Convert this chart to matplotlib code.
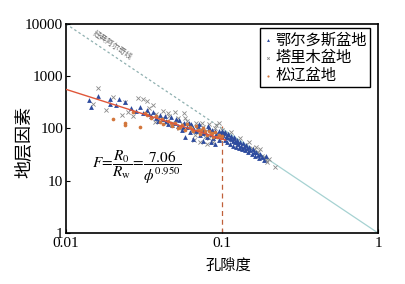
import numpy as np
import matplotlib
matplotlib.use('Agg')
import matplotlib.pyplot as plt

plt.rcParams['font.family'] = ['Liberation Serif', 'Noto Sans CJK SC']
plt.rcParams['mathtext.fontset'] = 'stix'

# 鄂尔多斯盆地 (blue triangles)
ordos_phi = [0.014, 0.0145, 0.016, 0.019, 0.019, 0.021, 0.022, 0.024, 0.026, 0.028,
             0.030, 0.031, 0.033, 0.035, 0.036, 0.038, 0.040, 0.042, 0.044, 0.045,
             0.047, 0.050, 0.052, 0.053, 0.055, 0.057, 0.058, 0.060, 0.062, 0.063,
             0.065, 0.065, 0.068, 0.070, 0.072, 0.075, 0.075, 0.078, 0.080, 0.082,
             0.085, 0.085, 0.088, 0.090, 0.090, 0.092, 0.095, 0.098, 0.100, 0.100,
             0.102, 0.104, 0.105, 0.107, 0.108, 0.110, 0.112, 0.113, 0.115, 0.117,
             0.118, 0.120, 0.122, 0.123, 0.125, 0.127, 0.128, 0.130, 0.132, 0.134,
             0.136, 0.138, 0.140, 0.142, 0.145, 0.147, 0.150, 0.152, 0.155, 0.158,
             0.160, 0.163, 0.166, 0.170, 0.172, 0.175, 0.180, 0.185, 0.190,
             0.034, 0.039, 0.043, 0.048, 0.051, 0.056, 0.061, 0.066, 0.071, 0.076,
             0.081, 0.086, 0.091, 0.096, 0.103, 0.106, 0.109, 0.114, 0.119, 0.124]
ordos_F = [345, 255, 420, 370, 300, 280, 360, 320, 250, 215,
           260, 195, 230, 175, 210, 160, 180, 150, 140, 120,
           165, 130, 110, 145, 95, 125, 70, 105, 85, 120,
           100, 62, 90, 110, 75, 95, 58, 85, 70, 100,
           80, 55, 65, 90, 50, 72, 60, 80, 68, 88,
           75, 60, 85, 70, 55, 78, 65, 50, 72, 58,
           47, 66, 54, 44, 60, 50, 42, 56, 46, 40,
           52, 44, 38, 48, 42, 36, 45, 38, 33, 40,
           35, 30, 36, 31, 27, 33, 28, 25, 30,
           190, 140, 170, 115, 150, 105, 130, 92, 120, 82,
           110, 95, 78, 88, 82, 68, 80, 62, 70, 56]

# 塔里木盆地 (grey crosses)
tarim_phi = [0.015, 0.016, 0.018, 0.020, 0.023, 0.024, 0.025, 0.027, 0.029, 0.031,
             0.033, 0.034, 0.036, 0.038, 0.040, 0.042, 0.045, 0.046, 0.048, 0.050,
             0.052, 0.055, 0.057, 0.060, 0.062, 0.064, 0.066, 0.068, 0.070, 0.072,
             0.075, 0.078, 0.080, 0.082, 0.085, 0.088, 0.090, 0.093, 0.095, 0.097,
             0.100, 0.105, 0.110, 0.115, 0.120, 0.125, 0.130, 0.140, 0.150, 0.155,
             0.160, 0.165, 0.170, 0.175, 0.180, 0.185, 0.190, 0.195, 0.200, 0.220,
             0.037, 0.044, 0.053, 0.058, 0.067, 0.074, 0.083, 0.092, 0.135, 0.145]
tarim_F = [300, 590, 230, 400, 180, 320, 210, 170, 390, 360,
           330, 250, 280, 190, 150, 220, 200, 170, 130, 210,
           160, 120, 200, 140, 110, 95, 60, 130, 85, 55,
           105, 70, 50, 120, 90, 55, 100, 75, 130, 60,
           95, 80, 65, 85, 60, 50, 65, 48, 55, 42,
           38, 45, 35, 40, 30, 28, 25, 23, 26, 18,
           135, 125, 100, 160, 75, 130, 65, 115, 42, 38]

# 松辽盆地 (orange dots)
songliao_phi = [0.020, 0.024, 0.024, 0.030, 0.032, 0.035, 0.038, 0.040, 0.042, 0.045,
                0.048, 0.050, 0.052, 0.055, 0.058, 0.060, 0.062, 0.065, 0.068, 0.070,
                0.072, 0.075, 0.078, 0.080, 0.082, 0.085, 0.088, 0.090, 0.093, 0.095,
                0.098, 0.100, 0.027, 0.033, 0.041, 0.047, 0.054, 0.064, 0.073, 0.086]
songliao_F = [155, 118, 125, 105, 200, 160, 175, 135, 120, 140,
              110, 125, 100, 115, 95, 120, 105, 88, 110, 95,
              80, 100, 88, 75, 90, 78, 70, 85, 68, 75,
              65, 72, 210, 180, 150, 128, 108, 98, 92, 82]

fit_a, fit_m = 7.06, 0.950

fig = plt.figure(figsize=(4.06, 2.84), dpi=100)
ax = fig.add_axes([0.1626, 0.1796, 0.7685, 0.736])

# classic Archie line F = 1/phi^2
ax.plot([0.01, 0.1], [1 / 0.01 ** 2, 1 / 0.1 ** 2], ls=(0, (2, 2)), color='#8fb0b0', lw=0.9)
ax.plot([0.1, 1], [1 / 0.1 ** 2, 1.0], color='#a6d2d2', lw=0.9)
ax.text(0.0197, 3963, '经典阿尔奇线', rotation=-33.8, fontsize=5.5, color='#666666',
        ha='center', va='center', family=['Noto Sans CJK SC'])

ax.scatter(tarim_phi, tarim_F, marker='x', s=9, color='#8a8a8a', lw=0.6, label='塔里木盆地', zorder=3)
ax.scatter(ordos_phi, ordos_F, marker='^', s=12, color='#2d4b9e', lw=0, label='鄂尔多斯盆地', zorder=4)
ax.scatter(songliao_phi, songliao_F, marker='o', s=7, color='#d2763c', lw=0, label='松辽盆地', zorder=5)

xf = np.array([0.01, 0.105])
ax.plot(xf, fit_a / xf ** fit_m, color='#e0573a', lw=1.0, zorder=6)
ax.plot([0.1, 0.1], [1, 110], ls=(0, (4, 3)), color='#c0603a', lw=0.9, zorder=2)

ax.text(0.0147, 18, r'$F\!=\!\dfrac{R_0}{R_\mathrm{w}}\!=\!\dfrac{7.06}{\phi^{0.950}}$',
        fontsize=11, ha='left', va='center')

ax.set_xscale('log')
ax.set_yscale('log')
ax.set_xlim(0.01, 1)
ax.set_ylim(1, 10000)
ax.set_xticks([0.01, 0.1, 1])
ax.set_xticklabels(['0.01', '0.1', '1'])
ax.set_yticks([1, 10, 100, 1000, 10000])
ax.set_yticklabels(['1', '10', '100', '1000', '10000'])
ax.minorticks_off()
ax.tick_params(direction='in', length=3, labelsize=11, width=0.8, pad=2)
ax.tick_params(axis='x', pad=3)
for s in ax.spines.values():
    s.set_linewidth(1.2)

ax.set_xlabel('孔隙度', fontsize=11, family=['Noto Sans CJK SC'])
ax.set_ylabel('地层因素', fontsize=13, family=['Noto Sans CJK SC'])
ax.xaxis.set_label_coords(0.522, -0.115)
ax.yaxis.set_label_coords(-0.103, 0.435)

handles, labels = ax.get_legend_handles_labels()
order = [1, 0, 2]
leg = ax.legend([handles[i] for i in order], [labels[i] for i in order],
                loc='upper right', bbox_to_anchor=(0.975, 0.98), fancybox=False,
                edgecolor='black', framealpha=1, prop={'family': 'Noto Sans CJK SC', 'size': 11},
                handletextpad=0.2, handlelength=0.6, borderpad=0.2, labelspacing=0.05,
                markerscale=0.6, borderaxespad=0)
leg.get_frame().set_linewidth(1.0)

fig.savefig('out.png', dpi=100)
